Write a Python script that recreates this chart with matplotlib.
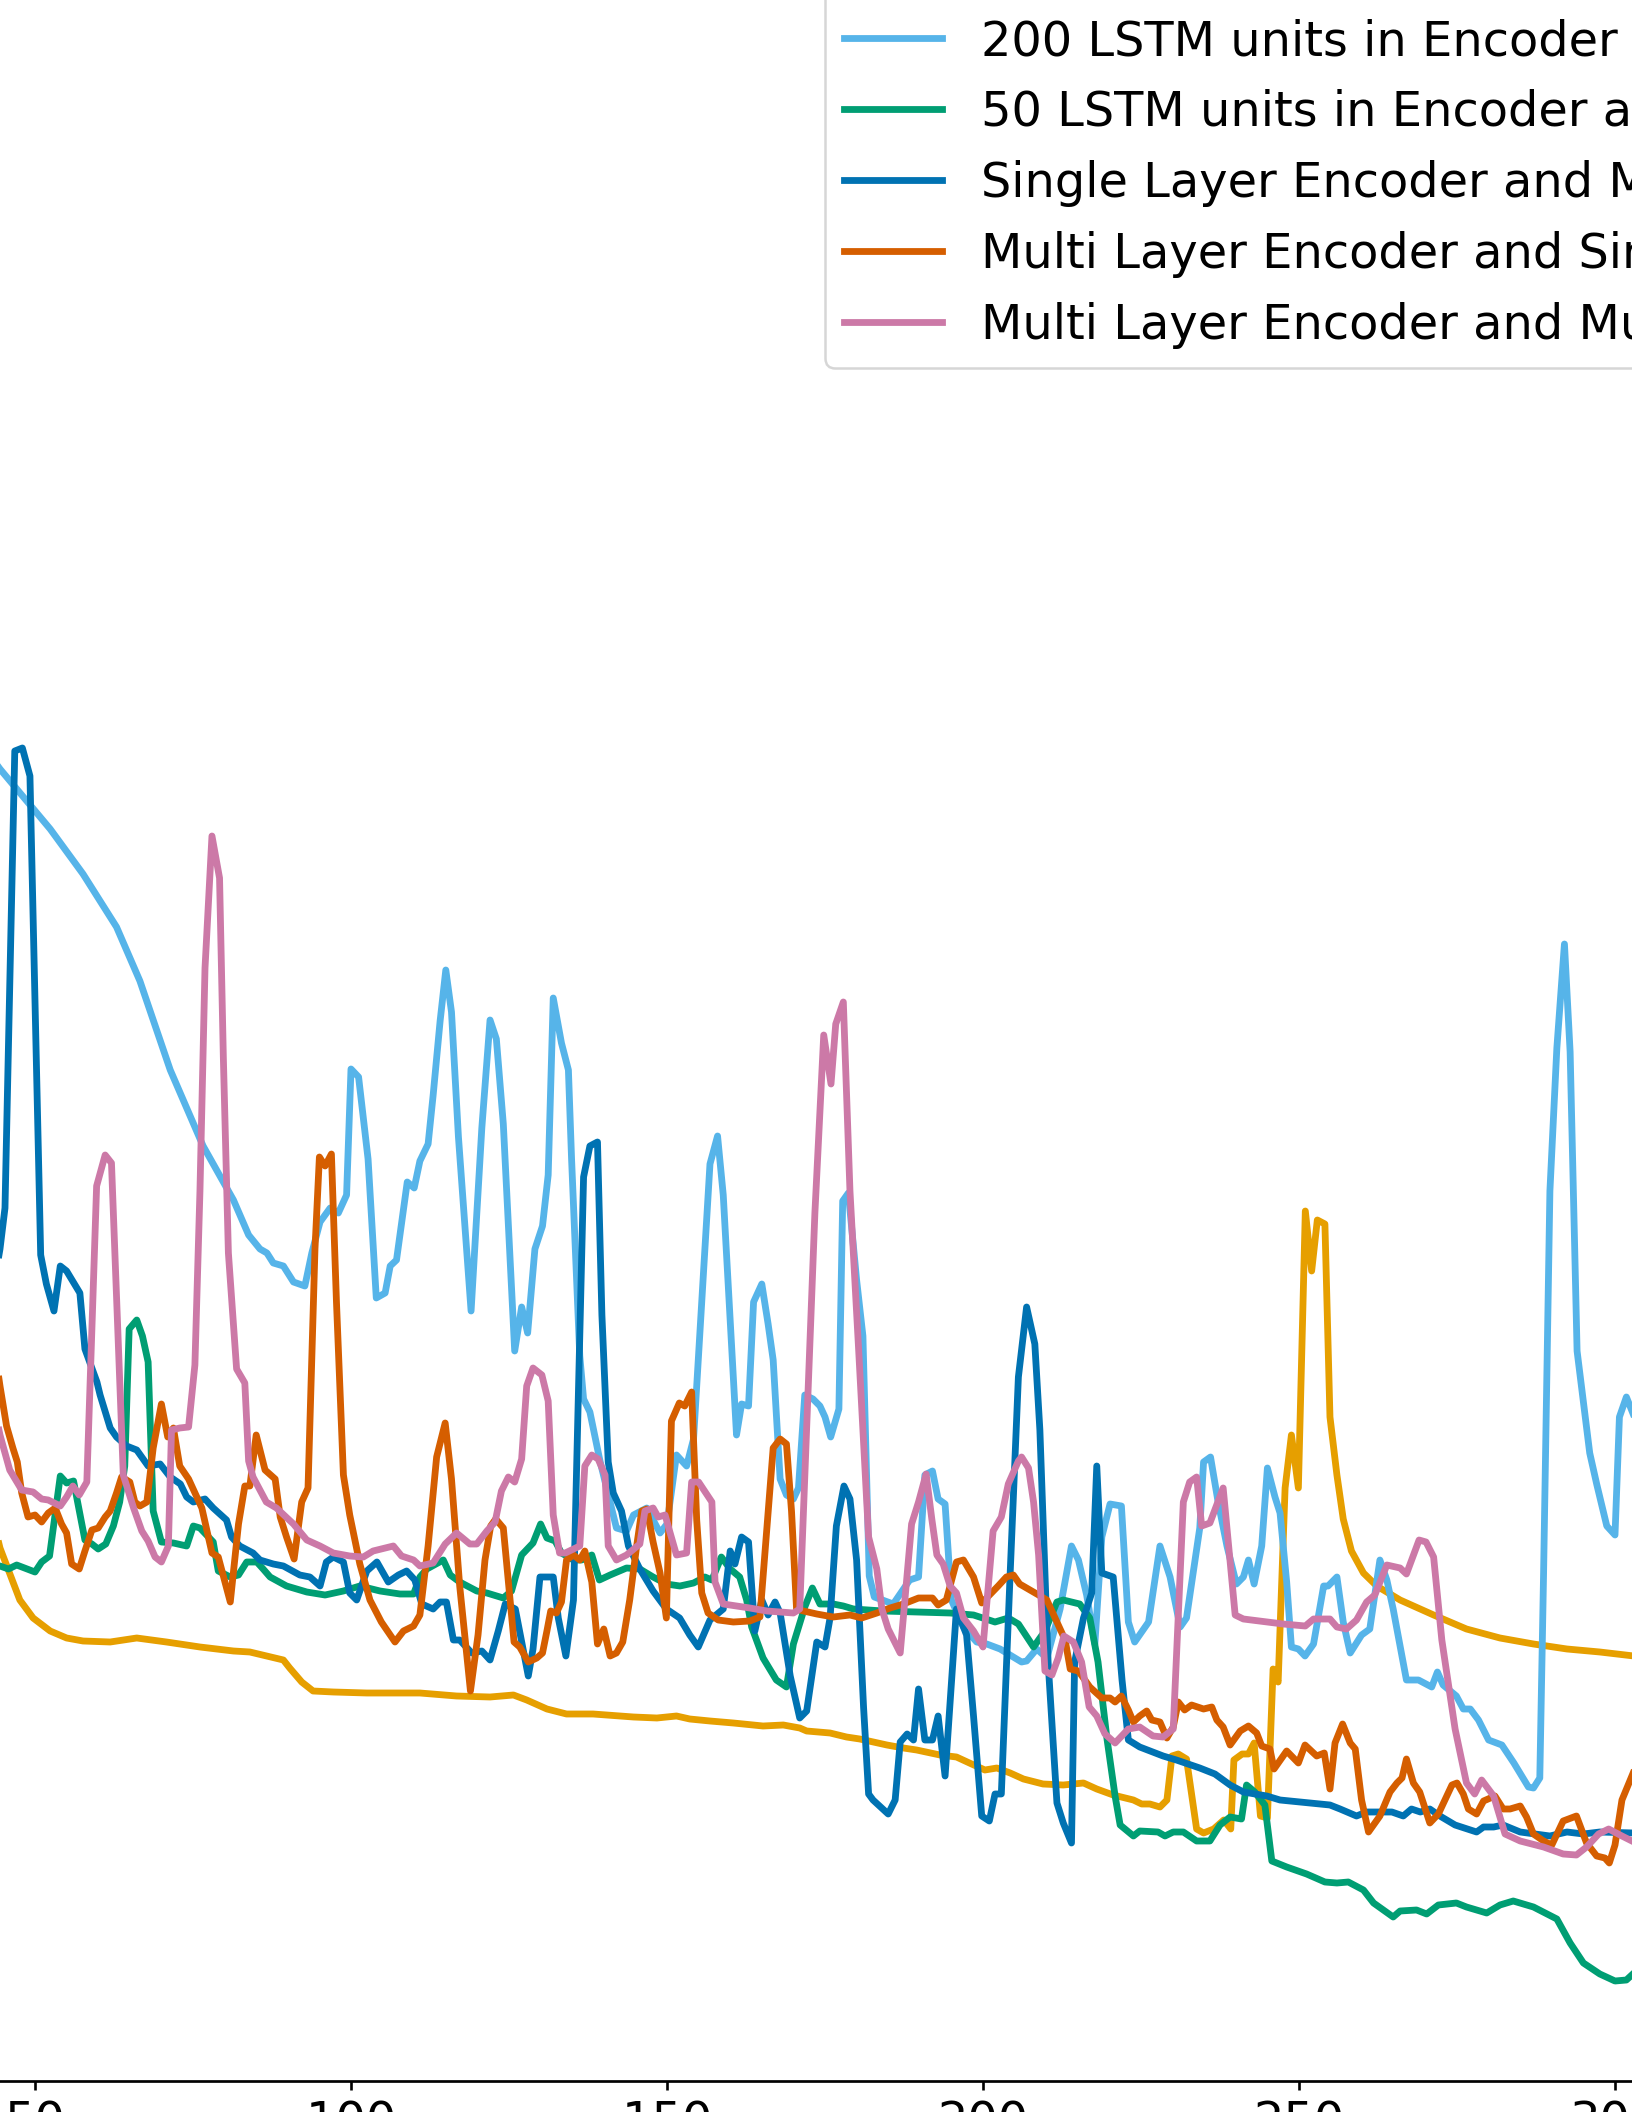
import matplotlib
matplotlib.use("Agg")
from matplotlib import pyplot as plt

# loss curves per model (epoch, loss)
labels = [
    "100 LSTM units in Encoder and Decoder",
    "200 LSTM units in Encoder and Decoder",
    "50 LSTM units in Encoder and Decoder",
    "Single Layer Encoder and Multi Layer Decoder",
    "Multi Layer Encoder and Single Layer Decoder",
    "Multi Layer Encoder and Multi Layer Decoder",
]
colors = ["#E69F00", "#56B4E9", "#009E73", "#0072B2", "#D55E00", "#CC79A7"]

ep_100 = [44.0, 44.46, 47.6, 49.7, 52.4, 55.0, 57.6, 61.9, 66.1, 70.8, 76.1, 81.4, 84.0, 89.3, 90.3, 92.2, 94.0,
          97.2, 102.5, 106.2, 110.9, 116.7, 122.0, 125.7, 127.8, 131.0, 134.1, 138.3, 144.7, 148.4, 151.5, 153.6,
          156.8, 160.5, 165.2, 168.4, 171.0, 172.1, 175.8, 178.4, 180.5, 184.8, 187.4, 189.5, 193.2, 195.8, 198.2,
          200.3, 202.2, 204.3, 206.4, 209.5, 212.7, 215.9, 218.0, 220.6, 223.8, 225.1, 226.4, 228.0, 229.1, 229.9,
          230.9, 232.2, 233.8, 234.9, 236.5, 238.1, 239.2, 239.7, 241.0, 242.0, 242.9, 243.9, 245.0, 245.9, 246.7,
          247.8, 248.8, 249.9, 251.0, 252.0, 252.9, 254.1, 254.9, 256.0, 257.0, 258.3, 260.2, 262.3, 266.0, 271.3,
          276.5, 281.8, 287.1, 292.4, 297.6, 303.0]
loss_100 = [0.545, 0.533, 0.481, 0.463, 0.450, 0.443, 0.440, 0.439, 0.443, 0.439, 0.434, 0.430, 0.429, 0.421, 0.413,
            0.399, 0.390, 0.389, 0.388, 0.388, 0.388, 0.385, 0.384, 0.386, 0.381, 0.372, 0.367, 0.367, 0.364, 0.363,
            0.365, 0.362, 0.360, 0.358, 0.355, 0.356, 0.353, 0.350, 0.348, 0.344, 0.342, 0.336, 0.333, 0.331, 0.326,
            0.324, 0.317, 0.311, 0.313, 0.308, 0.302, 0.297, 0.296, 0.298, 0.292, 0.286, 0.281, 0.277, 0.277, 0.274,
            0.281, 0.325, 0.327, 0.322, 0.252, 0.248, 0.252, 0.261, 0.252, 0.321, 0.327, 0.327, 0.338, 0.265, 0.263,
            0.412, 0.399, 0.593, 0.646, 0.593, 0.870, 0.810, 0.861, 0.857, 0.664, 0.606, 0.562, 0.530, 0.508, 0.495,
            0.481, 0.466, 0.452, 0.443, 0.437, 0.432, 0.429, 0.425]

ep_200 = [44.0, 44.46, 52.4, 57.6, 62.9, 66.6, 71.4, 76.6, 81.4, 83.8, 85.6, 86.7, 87.7, 89.3, 90.9, 92.7, 93.8,
          95.1, 96.7, 98.0, 99.3, 100.0, 101.2, 102.7, 104.0, 105.4, 106.2, 107.2, 108.9, 110.0, 110.9, 112.2, 113.0,
          114.1, 115.0, 115.9, 117.0, 119.0, 120.7, 122.0, 123.0, 124.1, 125.9, 127.0, 127.95, 129.1, 130.3, 131.2,
          132.0, 133.3, 134.4, 134.9, 136.2, 136.8, 137.8, 139.4, 142.0, 143.6, 144.7, 146.8, 148.9, 150.0, 151.5,
          153.1, 154.2, 156.8, 158.0, 158.9, 161.0, 161.8, 162.9, 163.7, 165.0, 166.0, 166.8, 167.9, 168.9, 170.0,
          170.8, 171.8, 173.1, 174.2, 175.0, 175.9, 177.2, 177.8, 178.7, 180.0, 181.0, 182.0, 182.8, 185.8, 188.4,
          189.8, 190.8, 192.0, 192.9, 194.0, 195.0, 196.9, 199.0, 200.6, 202.7, 206.1, 206.9, 208.5, 210.1, 212.2,
          214.0, 215.1, 216.4, 217.7, 218.8, 220.1, 221.9, 223.0, 224.0, 226.2, 228.0, 229.6, 231.2, 232.2, 234.3,
          234.9, 236.0, 237.2, 238.6, 240.1, 241.2, 242.0, 242.9, 244.1, 245.0, 246.2, 247.0, 248.05, 248.8, 249.9,
          250.95, 252.3, 253.9, 254.6, 256.0, 257.0, 258.1, 259.9, 261.2, 262.8, 263.9, 264.9, 267.0, 268.9, 271.0,
          271.9, 272.8, 274.9, 276.0, 277.1, 278.4, 280.0, 282.1, 284.0, 286.3, 287.1, 288.1, 288.7, 289.7, 290.8,
          292.0, 292.9, 294.0, 295.3, 296.0, 297.1, 298.7, 300.0, 300.7, 301.8, 303.0]
loss_200 = [1.316, 1.312, 1.252, 1.207, 1.154, 1.100, 1.011, 0.935, 0.881, 0.846, 0.832, 0.828, 0.818, 0.815, 0.799,
            0.795, 0.828, 0.859, 0.873, 0.868, 0.886, 1.012, 1.004, 0.922, 0.783, 0.788, 0.815, 0.821, 0.899, 0.893,
            0.920, 0.937, 0.986, 1.060, 1.111, 1.069, 0.944, 0.770, 0.953, 1.061, 1.042, 0.957, 0.730, 0.774, 0.748,
            0.832, 0.855, 0.906, 1.083, 1.038, 1.011, 0.922, 0.725, 0.682, 0.669, 0.620, 0.553, 0.550, 0.566, 0.573,
            0.548, 0.557, 0.626, 0.615, 0.642, 0.917, 0.945, 0.886, 0.646, 0.677, 0.675, 0.779, 0.797, 0.757, 0.721,
            0.602, 0.586, 0.582, 0.593, 0.686, 0.682, 0.675, 0.664, 0.644, 0.672, 0.880, 0.888, 0.801, 0.745, 0.505,
            0.484, 0.477, 0.501, 0.504, 0.606, 0.610, 0.582, 0.577, 0.481, 0.454, 0.439, 0.437, 0.432, 0.419, 0.420,
            0.432, 0.423, 0.472, 0.535, 0.521, 0.486, 0.437, 0.544, 0.577, 0.575, 0.459, 0.439, 0.459, 0.535, 0.504,
            0.454, 0.463, 0.553, 0.619, 0.624, 0.579, 0.535, 0.497, 0.504, 0.521, 0.497, 0.535, 0.613, 0.584, 0.568,
            0.499, 0.434, 0.432, 0.425, 0.437, 0.495, 0.495, 0.504, 0.459, 0.428, 0.446, 0.452, 0.521, 0.501, 0.472,
            0.401, 0.401, 0.394, 0.409, 0.396, 0.385, 0.372, 0.372, 0.361, 0.341, 0.336, 0.318, 0.294, 0.293, 0.303,
            0.508, 0.890, 1.033, 1.137, 1.029, 0.730, 0.664, 0.628, 0.597, 0.555, 0.546, 0.664, 0.684, 0.665]

ep_50 = [44.0, 44.46, 45.8, 47.1, 50.0, 51.05, 52.3, 54.0, 55.0, 56.1, 57.9, 59.0, 60.0, 61.2, 62.4, 63.4, 64.2, 64.9,
         66.1, 67.0, 67.9, 68.7, 70.0, 71.9, 74.0, 75.05, 76.1, 78.2, 79.0, 80.9, 82.2, 83.5, 85.1, 86.1, 87.2, 89.8,
         93.0, 95.9, 98.8, 101.4, 104.6, 107.75, 109.9, 110.9, 112.0, 114.6, 115.7, 117.2, 119.9, 121.5, 124.1, 125.4,
         127.0, 128.8, 130.0, 131.0, 132.3, 133.3, 135.2, 136.5, 138.1, 139.3, 141.0, 143.6, 145.7, 147.8, 149.9,
         152.05, 154.2, 156.0, 157.1, 158.6, 160.0, 161.5, 162.6, 163.4, 165.2, 167.3, 168.9, 170.0, 171.8, 173.0,
         174.2, 176.3, 177.9, 179.5, 184.2, 194.8, 198.5, 201.9, 204.0, 205.6, 208.0, 209.8, 211.7, 212.7, 215.3,
         216.9, 218.2, 219.6, 220.9, 221.7, 223.8, 224.8, 227.7, 228.8, 230.1, 231.7, 233.8, 235.9, 237.5, 239.1,
         240.9, 241.7, 243.0, 244.6, 245.7, 248.05, 251.2, 254.1, 256.0, 257.8, 260.2, 261.8, 264.9, 266.0, 268.6,
         270.2, 272.05, 274.9, 276.5, 279.7, 281.8, 283.9, 287.1, 290.8, 292.9, 295.0, 297.6, 300.0, 301.8, 303.0]
loss_50 = [0.515, 0.515, 0.512, 0.516, 0.509, 0.519, 0.525, 0.605, 0.598, 0.600, 0.541, 0.537, 0.532, 0.537, 0.555,
           0.579, 0.615, 0.752, 0.761, 0.745, 0.719, 0.570, 0.539, 0.538, 0.535, 0.555, 0.553, 0.539, 0.510, 0.504,
           0.506, 0.519, 0.519, 0.512, 0.504, 0.495, 0.489, 0.486, 0.490, 0.495, 0.490, 0.487, 0.487, 0.504, 0.512,
           0.521, 0.506, 0.499, 0.490, 0.488, 0.483, 0.490, 0.526, 0.538, 0.557, 0.543, 0.540, 0.528, 0.521, 0.521,
           0.526, 0.501, 0.506, 0.513, 0.512, 0.504, 0.497, 0.495, 0.498, 0.504, 0.501, 0.524, 0.512, 0.504, 0.481,
           0.454, 0.423, 0.401, 0.394, 0.437, 0.474, 0.493, 0.477, 0.477, 0.475, 0.472, 0.470, 0.468, 0.466, 0.459,
           0.463, 0.457, 0.434, 0.450, 0.479, 0.481, 0.477, 0.463, 0.419, 0.343, 0.285, 0.256, 0.245, 0.250, 0.249,
           0.245, 0.249, 0.249, 0.240, 0.240, 0.256, 0.264, 0.262, 0.296, 0.289, 0.276, 0.220, 0.214, 0.207, 0.199,
           0.198, 0.199, 0.191, 0.178, 0.164, 0.170, 0.171, 0.167, 0.176, 0.178, 0.174, 0.168, 0.176, 0.180, 0.174,
           0.162, 0.138, 0.118, 0.107, 0.100, 0.101, 0.108]

ep_single_multi = [44.0, 44.46, 45.25, 46.8, 48.0, 49.2, 50.9, 51.8, 53.0, 54.0, 55.0, 57.1, 57.9, 59.8, 60.3, 61.9,
                   62.9, 64.5, 66.1, 67.9, 69.8, 71.4, 73.0, 74.0, 75.05, 76.9, 78.2, 80.3, 81.1, 82.4, 84.5, 85.6,
                   87.7, 89.3, 91.9, 93.5, 95.1, 96.1, 97.2, 98.8, 99.8, 100.9, 102.5, 104.1, 105.9, 107.5, 108.8,
                   110.1, 111.2, 113.0, 114.1, 115.1, 116.2, 117.2, 119.1, 120.7, 122.0, 123.3, 124.4, 126.0, 128.05,
                   128.8, 129.9, 130.95, 132.0, 132.8, 134.0, 135.2, 136.8, 137.8, 139.0, 139.7, 140.7, 141.5, 142.8,
                   143.9, 145.7, 147.8, 149.9, 152.0, 153.6, 154.95, 156.8, 158.9, 160.0, 160.75, 161.8, 162.9, 163.9,
                   165.0, 166.0, 167.1, 167.9, 169.5, 171.0, 172.1, 173.7, 175.0, 175.8, 176.8, 178.0, 178.95, 180.0,
                   181.1, 181.9, 182.6, 185.0, 186.1, 186.9, 188.0, 189.0, 189.8, 190.8, 192.0, 192.9, 194.0, 195.8,
                   197.4, 198.5, 199.8, 201.0, 201.9, 202.9, 204.3, 205.6, 206.9, 208.2, 209.0, 210.3, 211.7, 212.7,
                   214.0, 214.5, 215.9, 217.2, 218.0, 218.8, 220.6, 222.0, 223.0, 224.8, 228.5, 230.6, 234.3, 236.7,
                   239.1, 241.2, 244.9, 247.0, 251.7, 254.9, 256.5, 259.1, 260.7, 262.8, 264.7, 266.5, 267.8, 269.2,
                   270.7, 272.3, 274.7, 278.1, 279.2, 280.8, 282.3, 285.0, 289.7, 292.4, 295.0, 297.6, 303.0]
loss_single_multi = [0.815, 0.832, 0.873, 1.330, 1.333, 1.305, 0.826, 0.797, 0.770, 0.815, 0.810, 0.788, 0.732,
                     0.699, 0.686, 0.653, 0.644, 0.635, 0.631, 0.615, 0.617, 0.604, 0.597, 0.584, 0.579, 0.582,
                     0.573, 0.561, 0.544, 0.535, 0.528, 0.521, 0.517, 0.515, 0.506, 0.504, 0.495, 0.519, 0.524,
                     0.519, 0.488, 0.481, 0.510, 0.519, 0.499, 0.506, 0.510, 0.501, 0.477, 0.472, 0.479, 0.479,
                     0.441, 0.441, 0.428, 0.430, 0.421, 0.450, 0.477, 0.472, 0.405, 0.432, 0.504, 0.504, 0.504,
                     0.463, 0.425, 0.481, 0.904, 0.935, 0.939, 0.766, 0.619, 0.588, 0.570, 0.535, 0.512, 0.490,
                     0.472, 0.463, 0.446, 0.434, 0.461, 0.472, 0.530, 0.517, 0.544, 0.539, 0.450, 0.481, 0.466,
                     0.479, 0.468, 0.405, 0.363, 0.370, 0.439, 0.434, 0.463, 0.555, 0.595, 0.582, 0.521, 0.374,
                     0.287, 0.281, 0.267, 0.281, 0.339, 0.347, 0.341, 0.392, 0.341, 0.341, 0.365, 0.305, 0.472,
                     0.446, 0.365, 0.265, 0.260, 0.287, 0.287, 0.508, 0.704, 0.774, 0.737, 0.651, 0.419, 0.278,
                     0.258, 0.238, 0.419, 0.463, 0.488, 0.615, 0.508, 0.504, 0.401, 0.341, 0.334, 0.325, 0.321,
                     0.313, 0.307, 0.296, 0.289, 0.285, 0.281, 0.278, 0.276, 0.272, 0.265, 0.269, 0.269, 0.269,
                     0.265, 0.272, 0.269, 0.272, 0.265, 0.256, 0.249, 0.254, 0.254, 0.256, 0.249, 0.245, 0.249,
                     0.247, 0.249, 0.248]

ep_multi_single = [44.0, 44.46, 45.5, 46.5, 47.2, 47.9, 48.9, 50.0, 51.05, 52.1, 53.2, 54.2, 55.0, 55.8, 57.0, 57.9,
                   59.0, 60.0, 61.1, 61.9, 62.9, 63.7, 65.0, 65.8, 66.6, 67.7, 68.7, 70.0, 71.0, 71.9, 72.9, 74.3,
                   76.4, 78.0, 79.0, 80.9, 82.2, 83.2, 84.0, 85.0, 86.4, 88.0, 88.8, 89.8, 91.0, 92.2, 93.2, 94.3,
                   95.0, 95.9, 96.9, 97.7, 98.8, 99.8, 101.4, 103.0, 104.8, 106.96, 108.3, 109.9, 110.9, 112.2, 113.55,
                   114.9, 115.9, 117.2, 118.9, 120.1, 121.2, 122.1, 122.9, 124.1, 124.9, 125.8, 126.7, 128.05, 129.4,
                   130.3, 131.0, 131.6, 132.5, 133.3, 134.1, 135.2, 136.2, 137.0, 138.1, 139.0, 140.0, 141.0, 142.0,
                   143.0, 144.1, 145.2, 146.0, 146.8, 147.8, 148.9, 149.9, 150.7, 151.95, 152.8, 153.9, 154.7, 155.5,
                   156.5, 158.1, 160.5, 163.1, 164.7, 165.8, 166.8, 167.9, 168.9, 169.7, 170.5, 171.6, 173.7, 176.3,
                   178.95, 180.8, 183.2, 185.3, 187.4, 189.8, 192.0, 192.9, 194.2, 195.8, 196.9, 198.5, 199.8, 202.4,
                   203.7, 204.8, 205.8, 208.8, 210.1, 211.7, 213.0, 213.8, 215.1, 216.9, 218.8, 220.1, 220.9, 221.9,
                   223.0, 223.8, 224.8, 225.9, 226.7, 228.0, 229.1, 230.1, 230.9, 231.9, 233.0, 234.9, 236.2, 237.0,
                   238.0, 239.1, 240.7, 242.0, 243.3, 244.1, 245.4, 246.05, 248.05, 249.9, 250.95, 252.8, 254.0,
                   254.9, 255.7, 256.9, 258.1, 258.9, 259.9, 261.0, 262.8, 264.4, 265.5, 266.3, 267.0, 268.1, 269.1,
                   270.7, 272.05, 274.2, 275.0, 276.0, 276.8, 278.1, 279.2, 281.0, 282.3, 283.4, 285.0, 286.0, 287.1,
                   288.7, 290.0, 291.8, 293.9, 295.5, 297.1, 298.4, 299.1, 300.0, 301.1, 303.0]
loss_multi_single = [0.715, 0.695, 0.655, 0.633, 0.619, 0.588, 0.564, 0.566, 0.559, 0.568, 0.573, 0.557, 0.548,
                     0.517, 0.512, 0.530, 0.551, 0.553, 0.564, 0.570, 0.588, 0.604, 0.599, 0.579, 0.575, 0.579,
                     0.633, 0.677, 0.644, 0.653, 0.615, 0.602, 0.573, 0.528, 0.524, 0.479, 0.557, 0.595, 0.595,
                     0.646, 0.611, 0.602, 0.564, 0.544, 0.522, 0.579, 0.593, 0.832, 0.924, 0.915, 0.927, 0.779,
                     0.606, 0.566, 0.517, 0.481, 0.459, 0.439, 0.450, 0.455, 0.466, 0.535, 0.624, 0.658, 0.602,
                     0.495, 0.390, 0.446, 0.521, 0.555, 0.562, 0.553, 0.499, 0.439, 0.434, 0.419, 0.423, 0.428,
                     0.450, 0.470, 0.468, 0.479, 0.521, 0.526, 0.521, 0.530, 0.499, 0.437, 0.452, 0.425, 0.428,
                     0.439, 0.481, 0.535, 0.570, 0.572, 0.539, 0.508, 0.463, 0.660, 0.678, 0.675, 0.689, 0.561,
                     0.488, 0.468, 0.461, 0.459, 0.460, 0.464, 0.553, 0.633, 0.642, 0.637, 0.570, 0.472, 0.470,
                     0.467, 0.464, 0.466, 0.463, 0.468, 0.473, 0.477, 0.483, 0.483, 0.476, 0.481, 0.519, 0.521,
                     0.504, 0.478, 0.495, 0.504, 0.506, 0.497, 0.486, 0.481, 0.459, 0.441, 0.412, 0.410, 0.394,
                     0.383, 0.383, 0.379, 0.385, 0.371, 0.359, 0.365, 0.370, 0.361, 0.359, 0.343, 0.354, 0.379,
                     0.371, 0.376, 0.372, 0.374, 0.361, 0.354, 0.336, 0.350, 0.355, 0.348, 0.335, 0.332, 0.312,
                     0.330, 0.318, 0.336, 0.325, 0.328, 0.292, 0.338, 0.357, 0.338, 0.332, 0.281, 0.249, 0.265,
                     0.289, 0.298, 0.303, 0.322, 0.298, 0.289, 0.258, 0.267, 0.296, 0.298, 0.287, 0.272, 0.267,
                     0.280, 0.285, 0.272, 0.272, 0.275, 0.264, 0.247, 0.240, 0.236, 0.260, 0.265, 0.238, 0.225,
                     0.223, 0.218, 0.236, 0.281, 0.310]

ep_multi_multi = [44.0, 44.46, 46.0, 47.9, 49.7, 51.05, 52.1, 54.0, 55.0, 56.0, 57.0, 58.2, 59.75, 61.1, 62.1, 63.97,
                  65.6, 66.9, 67.9, 69.0, 70.0, 71.1, 71.6, 72.9, 74.3, 75.3, 76.1, 76.9, 78.0, 79.2, 79.8, 80.6,
                  81.9, 83.2, 83.8, 84.5, 86.6, 88.2, 90.9, 93.0, 95.1, 97.2, 99.8, 101.95, 103.5, 106.7, 108.0,
                  109.9, 110.9, 113.0, 114.9, 116.7, 118.8, 119.9, 121.5, 122.8, 123.8, 124.9, 125.9, 127.0, 127.8,
                  128.8, 130.2, 131.2, 132.0, 133.0, 133.9, 136.2, 137.0, 138.1, 139.1, 140.2, 140.7, 142.0, 143.6,
                  145.7, 146.5, 147.8, 148.6, 149.7, 150.5, 151.5, 153.1, 153.9, 155.0, 157.1, 157.6, 158.9, 163.1,
                  165.8, 170.0, 171.0, 173.4, 174.8, 175.95, 176.7, 177.9, 178.95, 180.3, 181.9, 183.2, 184.0, 185.0,
                  186.9, 188.7, 189.8, 191.0, 191.9, 192.7, 193.7, 194.8, 195.8, 196.9, 198.5, 200.0, 201.6, 202.9,
                  204.0, 205.6, 206.1, 207.2, 208.0, 208.8, 209.8, 210.9, 211.9, 212.8, 214.3, 215.6, 216.8, 218.0,
                  219.3, 220.9, 223.0, 224.8, 226.9, 228.5, 230.1, 231.7, 232.7, 233.8, 234.6, 235.9, 238.0, 239.9,
                  241.2, 244.9, 247.5, 251.0, 252.3, 254.9, 256.0, 257.5, 259.1, 260.7, 262.0, 263.9, 266.0, 267.0,
                  269.0, 270.1, 271.3, 272.6, 274.7, 276.5, 277.8, 278.9, 280.8, 282.6, 285.0, 288.7, 291.8, 293.9,
                  295.5, 297.4, 299.0, 301.1, 303.0]
loss_multi_multi = [0.660, 0.646, 0.611, 0.591, 0.589, 0.582, 0.581, 0.575, 0.584, 0.595, 0.586, 0.599, 0.895,
                    0.926, 0.918, 0.606, 0.573, 0.550, 0.540, 0.524, 0.519, 0.535, 0.651, 0.653, 0.654, 0.716,
                    0.890, 1.113, 1.245, 1.203, 1.024, 0.828, 0.712, 0.698, 0.620, 0.604, 0.579, 0.573, 0.557,
                    0.541, 0.535, 0.528, 0.525, 0.524, 0.530, 0.535, 0.525, 0.521, 0.515, 0.518, 0.537, 0.548,
                    0.537, 0.537, 0.550, 0.559, 0.590, 0.604, 0.599, 0.622, 0.695, 0.713, 0.706, 0.680, 0.566,
                    0.528, 0.528, 0.535, 0.615, 0.626, 0.622, 0.606, 0.535, 0.521, 0.526, 0.537, 0.570, 0.573,
                    0.564, 0.566, 0.548, 0.526, 0.528, 0.599, 0.599, 0.579, 0.499, 0.477, 0.473, 0.470, 0.468,
                    0.472, 0.868, 1.046, 0.997, 1.057, 1.079, 0.890, 0.734, 0.544, 0.512, 0.472, 0.452, 0.428,
                    0.557, 0.579, 0.607, 0.562, 0.526, 0.517, 0.495, 0.488, 0.463, 0.450, 0.434, 0.550, 0.564,
                    0.597, 0.620, 0.624, 0.613, 0.579, 0.526, 0.410, 0.406, 0.423, 0.445, 0.439, 0.419, 0.374,
                    0.365, 0.347, 0.338, 0.352, 0.354, 0.345, 0.344, 0.352, 0.579, 0.599, 0.604, 0.555, 0.558,
                    0.593, 0.466, 0.462, 0.459, 0.457, 0.455, 0.462, 0.462, 0.454, 0.452, 0.461, 0.479, 0.486,
                    0.516, 0.513, 0.507, 0.541, 0.539, 0.524, 0.441, 0.352, 0.298, 0.287, 0.301, 0.285, 0.247,
                    0.240, 0.234, 0.227, 0.226, 0.234, 0.247, 0.252, 0.245, 0.239]

epochs = [ep_100, ep_200, ep_50, ep_single_multi, ep_multi_single, ep_multi_multi]
losses = [loss_100, loss_200, loss_50, loss_single_multi, loss_multi_single, loss_multi_multi]

W, H = 1632, 2112
fig = plt.figure(figsize=(W / 100, H / 100), dpi=100)
# the picture only shows a window of a bigger axes, so the axes run past the figure edges
ax = fig.add_axes([-281 / W, 31 / H, 2212 / W, 2200 / H])

for ep, loss, c, lab in zip(epochs, losses, colors, labels):
    ax.plot(ep, loss, color=c, lw=4.9, label=lab)

ax.set_xlim(0, 350)
ax.set_ylim(0, 2.2)
ax.set_xticks(range(0, 351, 50))
ax.tick_params(labelsize=34.5, length=6.5, width=1.9, pad=7)
for s in ax.spines.values():
    s.set_linewidth(1.95)

leg = ax.legend(loc='lower left', bbox_to_anchor=(825 / W, 1 - 368 / H), bbox_transform=fig.transFigure,
                borderaxespad=0, fontsize=34.5, handlelength=2.05, handletextpad=0.8,
                borderpad=0.4, labelspacing=0.5)
leg.get_frame().set_linewidth(1.8)

fig.savefig('out.png', dpi=100)
